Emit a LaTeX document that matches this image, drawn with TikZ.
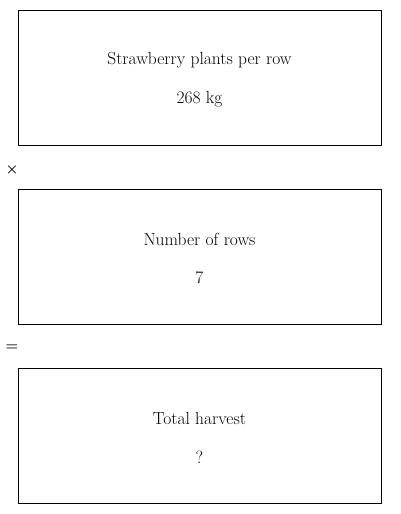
\documentclass[tikz,border=0pt]{standalone}
\usepackage{tikz}
\usetikzlibrary{positioning}
\tikzset{
  panel/.style={draw,line width=0.9pt,minimum width=363pt,minimum height=135pt,inner sep=0pt},
  txt/.style={font=\fontsize{17.5}{19}\selectfont},
  op/.style={font=\fontsize{14}{16}\selectfont\boldmath}
}
\begin{document}
\begin{tikzpicture}[x=1pt,y=-1pt]
        \useasboundingbox (0,0) rectangle (400,514);
        \node[panel] (rowbox) at (199.5,77.5) {};
        \node[panel] (numbox) at (199.5,256.5) {};
        \node[panel] (totbox) at (199.5,435.5) {};
        \foreach \b/\t/\v in {rowbox/Strawberry plants per row/268 kg,numbox/Number of rows/7,totbox/Total harvest/?}{
          \node[txt] (\b-t) at ([yshift=17.5pt]\b.center) {\t};
          \node[txt] (\b-v) at ([yshift=-21.5pt]\b.center) {\v};
        }
        \node[op] (times) at (12,170) {$\times$};
        \node[op] (equals) at (12,348) {$=$};
      \end{tikzpicture}
\end{document}
